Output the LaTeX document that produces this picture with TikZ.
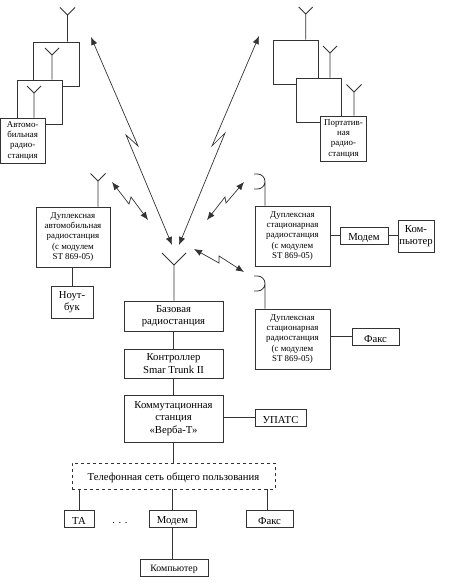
\documentclass[tikz,border=0pt]{standalone}
\usepackage{fontspec}
\setmainfont{Liberation Serif}
\usetikzlibrary{arrows.meta,positioning}
\tikzset{
	>={Latex[length=8pt,width=6.5pt]},
}

\begin{document}
\begin{tikzpicture}[x=1pt,y=-1pt,line width=0.8pt,draw=black!80,
	block/.style = {draw, fill=white, align=center, inner sep=0, execute at begin node={\rule{0pt}{1.1em}}, font=\fontsize{10.7}{12.6}\selectfont},
	small/.style = {block, font=\fontsize{8.9}{10.3}\selectfont},
	medium/.style = {block, font=\fontsize{9.8}{12}\selectfont},
	ghost/.style = {draw, fill=white, inner sep=0, minimum width=45.5pt, minimum height=44pt},
	radiolink/.style = {<->, line width=0.7pt}]
\useasboundingbox (0,0) rectangle (451,586);
% cars, top left
\node[ghost] (car3) at (56.5,64) {};
\node[ghost] (car2) at (40,102) {};
\node[small,minimum width=45.5pt,minimum height=45pt] (car1) at (22.7,140.5) {Автомо-\\бильная\\радио-\\станция};
% portable sets, top right
\node[ghost] (port3) at (296,62) {};
\node[ghost] (port2) at (319,100) {};
\node[small,minimum width=45.5pt,minimum height=45pt] (port1) at (343.5,138.5) {Портатив-\\ная\\радио-\\станция};
% duplex stations
\node[small,minimum width=74pt,minimum height=60pt] (mobile) at (73,237) {Дуплексная\\автомобильная\\радиостанция\\(с модулем\\ ST 869-05)};
\node[block,minimum width=42pt,minimum height=32pt] (laptop) at (72,302) {Ноут-\\бук};
\node[small,minimum width=75pt,minimum height=60pt] (fixed1) at (292.5,236) {Дуплексная\\стационарная\\радиостанция\\(с модулем\\ ST 869-05)};
\node[block,minimum width=48pt,minimum height=17pt] (modem1) at (364,235.5) {Модем};
\node[block,minimum width=36pt,minimum height=32pt] (comp1) at (416,236) {Ком-\\пьютер};
\node[small,minimum width=75pt,minimum height=60pt] (fixed2) at (292.5,339) {Дуплексная\\стационарная\\радиостанция\\(с модулем\\ ST 869-05)};
\node[block,minimum width=47pt,minimum height=17pt] (fax1) at (375.5,336.5) {Факс};
% central column
\node[block,minimum width=99pt,minimum height=30pt] (base) at (173.5,316) {Базовая\\радиостанция};
\node[block,minimum width=99pt,minimum height=29pt] (ctrl) at (173.5,363.5) {Контроллер\\Smar Trunk II};
\node[block,minimum width=99pt,minimum height=47pt] (switch) at (173.5,418.5) {Коммутационная\\станция\\«Верба-Т»};
\node[block,minimum width=51pt,minimum height=17pt] (pbx) at (280.5,417.5) {УПАТС};
\node[block,dashed,minimum width=203pt,minimum height=26pt] (pstn) at (173.5,476) {Телефонная сеть общего пользования};
\node[block,minimum width=30pt,minimum height=17pt] (phone) at (79,518.5) {ТА};
\node[block,minimum width=47pt,minimum height=17pt] (modem2) at (172.5,518.5) {Модем};
\node[block,minimum width=47pt,minimum height=17pt] (fax2) at (269.5,518.5) {Факс};
\node[medium,minimum width=68pt,minimum height=17pt] (comp2) at (174,567.5) {Компьютер};
\node[block,draw=none,fill=none] (dots) at (120,518) {. . .};
% wires
\draw (mobile.south -| laptop) -- (laptop);
\draw (fixed1.east |- modem1) -- (modem1);
\draw (modem1) -- (comp1.west |- modem1);
\draw (fixed2.east |- fax1) -- (fax1);
\draw (base) -- (ctrl);
\draw (ctrl) -- (switch);
\draw (switch.east |- pbx) -- (pbx);
\draw (switch) -- (pstn);
\coordinate (pstnleft) at (79,489);
\coordinate (pstnright) at (267,489);
\draw (pstnleft) -- (pstnleft |- phone.north);
\draw (pstn.south -| modem2) -- (modem2);
\draw (pstnright) -- (pstnright |- fax2.north);
\draw (modem2) -- (modem2 |- comp2.north);
% antennas
\foreach \name/\owner/\x/\y/\w in {a1/car3/67.5/15/7.5,a2/car2/52/55/7,a3/car1/34/93/7,
	a4/port3/305.7/14/7,a5/port2/330/53/7,a6/port1/354/92/7.5,
	a7/mobile/98/181/7.5,a8/base/174/265/12}{
	\coordinate (\name) at (\x,\y);
	\draw (\owner.north -| \name) -- (\name) -- ++(-\w,-\w) (\name) -- ++(\w,-\w);
}
\foreach \name/\owner/\y in {d1/fixed1/181.5,d2/fixed2/283.5}{
	\coordinate (\name) at (265,\y);
	\draw (\owner.north -| \name) -- (\name) arc[start angle=0,end angle=90,radius=7.5] -- ++(-3.5,0);
	\draw (\name) arc[start angle=0,end angle=-90,radius=7.5] -- ++(-3.5,0);
}
% radio links
\coordinate (l1a) at (91,37);
\coordinate (l1b) at (138,146);
\coordinate (l1c) at (126,135);
\coordinate (l1d) at (172,245);
\draw[radiolink] (l1a) -- (l1b) -- (l1c) -- (l1d);
\coordinate (l2a) at (259,36);
\coordinate (l2b) at (212,146);
\coordinate (l2c) at (225,133);
\coordinate (l2d) at (179,245);
\draw[radiolink] (l2a) -- (l2b) -- (l2c) -- (l2d);
\coordinate (l3a) at (112,182);
\coordinate (l3b) at (129,204);
\coordinate (l3c) at (131,197);
\coordinate (l3d) at (148,220);
\draw[radiolink] (l3a) -- (l3b) -- (l3c) -- (l3d);
\coordinate (l4a) at (244,182);
\coordinate (l4b) at (226,203);
\coordinate (l4c) at (225,197);
\coordinate (l4d) at (207,220);
\draw[radiolink] (l4a) -- (l4b) -- (l4c) -- (l4d);
\coordinate (l5a) at (194,249);
\coordinate (l5b) at (219,263);
\coordinate (l5c) at (219,256);
\coordinate (l5d) at (244,272);
\draw[radiolink] (l5a) -- (l5b) -- (l5c) -- (l5d);
\end{tikzpicture}
\end{document}
